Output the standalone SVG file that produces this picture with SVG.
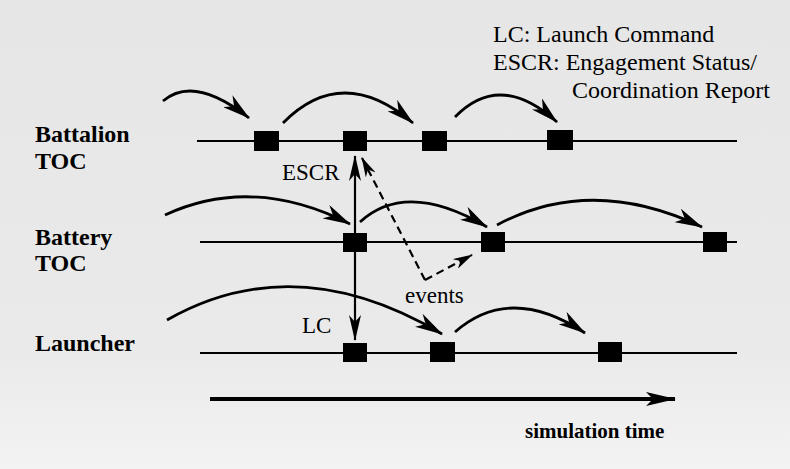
<svg xmlns="http://www.w3.org/2000/svg" width="790" height="469" viewBox="0 0 790 469">
<style>
.lbl{font-family:"Liberation Serif","Times New Roman",serif;font-weight:bold;font-size:24px;fill:#000}
.txt{font-family:"Liberation Serif","Times New Roman",serif;font-size:23px;fill:#000}
.leg{font-family:"Liberation Serif","Times New Roman",serif;font-size:24px;fill:#000}
.tl{stroke:#000;stroke-width:2.2;fill:none}
.ev{fill:#000}
.arc{stroke:#000;stroke-width:2.8;fill:none;marker-end:url(#ah)}
.msg{stroke:#000;stroke-width:2.2;fill:none;marker-end:url(#ahv)}
.dash{stroke:#000;stroke-width:2.2;fill:none;stroke-dasharray:8 5;marker-end:url(#ahs)}
</style>
<defs>
<linearGradient id="bg" x1="0" y1="0" x2="0" y2="1">
<stop offset="0" stop-color="#e6e6e6"/>
<stop offset="0.75" stop-color="#eaeaea"/>
<stop offset="1" stop-color="#f3f3f3"/>
</linearGradient>
<marker id="ah" viewBox="0 0 28 15" refX="27" refY="7.5" markerWidth="28" markerHeight="15" markerUnits="userSpaceOnUse" orient="auto">
<path d="M0,0 L28,7.5 L0,15 L8,7.5 Z" fill="#000"/>
</marker>
<marker id="ahv" viewBox="0 0 26 12" refX="25" refY="6" markerWidth="26" markerHeight="12" markerUnits="userSpaceOnUse" orient="auto">
<path d="M0,0 L26,6 L0,12 L7,6 Z" fill="#000"/>
</marker>
<marker id="ahs" viewBox="0 0 20 11" refX="19" refY="5.5" markerWidth="20" markerHeight="11" markerUnits="userSpaceOnUse" orient="auto">
<path d="M0,0 L20,5.5 L0,11 L6,5.5 Z" fill="#000"/>
</marker>
<marker id="aht" viewBox="0 0 30 14" refX="29" refY="7" markerWidth="30" markerHeight="14" markerUnits="userSpaceOnUse" orient="auto">
<path d="M0,0 L30,7 L0,14 L7,7 Z" fill="#000"/>
</marker>
</defs>
<rect x="0" y="0" width="790" height="469" fill="url(#bg)"/>

<g id="legend">
<text class="leg" x="493" y="42">LC: Launch Command</text>
<text class="leg" x="493" y="70">ESCR: Engagement Status/</text>
<text class="leg" x="572" y="98">Coordination Report</text>
</g>

<g id="battalion-toc">
<text class="lbl" x="35" y="142">Battalion</text>
<text class="lbl" x="35" y="169">TOC</text>
<line class="tl" x1="197" y1="141" x2="737" y2="141"/>
<rect class="ev" x="254" y="131" width="25" height="20"/>
<rect class="ev" x="343" y="131" width="24" height="20"/>
<rect class="ev" x="422" y="131" width="25" height="20"/>
<rect class="ev" x="547" y="130" width="26" height="20"/>
</g>

<g id="battery-toc">
<text class="lbl" x="35" y="245">Battery</text>
<text class="lbl" x="35" y="271">TOC</text>
<line class="tl" x1="200" y1="242" x2="737" y2="242"/>
<rect class="ev" x="343" y="233" width="24" height="19"/>
<rect class="ev" x="481" y="232" width="24" height="20"/>
<rect class="ev" x="703" y="232" width="24" height="20"/>
</g>

<g id="launcher">
<text class="lbl" x="35" y="351">Launcher</text>
<line class="tl" x1="200" y1="353" x2="737" y2="353"/>
<rect class="ev" x="343" y="343" width="24" height="19"/>
<rect class="ev" x="430" y="342" width="25" height="20"/>
<rect class="ev" x="598" y="342" width="24" height="20"/>
</g>

<g id="time-axis">
<line x1="210" y1="399" x2="675" y2="399" stroke="#000" stroke-width="4" marker-end="url(#aht)"/>
<text class="lbl" x="525" y="438" style="font-size:21px">simulation time</text>
</g>

<g id="connectors">
<path class="arc" d="M163,101 Q194,74.5 249,118"/>
<path class="arc" d="M283,123 Q342,63 413,123"/>
<path class="arc" d="M455,117 Q500,70.5 557,122"/>
<path class="arc" d="M165,215 Q252.5,174.5 350,224"/>
<path class="arc" d="M360,222 Q406.5,179.5 487,227"/>
<path class="arc" d="M497,225 Q591.5,174.5 702,227"/>
<path class="arc" d="M167,320 Q295.5,247 442,334"/>
<path class="arc" d="M455,332 Q510,283.5 585,333"/>
<line class="msg" x1="355" y1="233" x2="355" y2="156"/>
<line class="msg" x1="355" y1="252" x2="355" y2="340"/>
<path class="dash" d="M425,280 L362,158"/>
<path class="dash" d="M425,280 L472,255"/>
<text class="txt" x="282" y="180">ESCR</text>
<text class="txt" x="302" y="333">LC</text>
<text class="txt" x="405" y="303">events</text>
</g>
</svg>
